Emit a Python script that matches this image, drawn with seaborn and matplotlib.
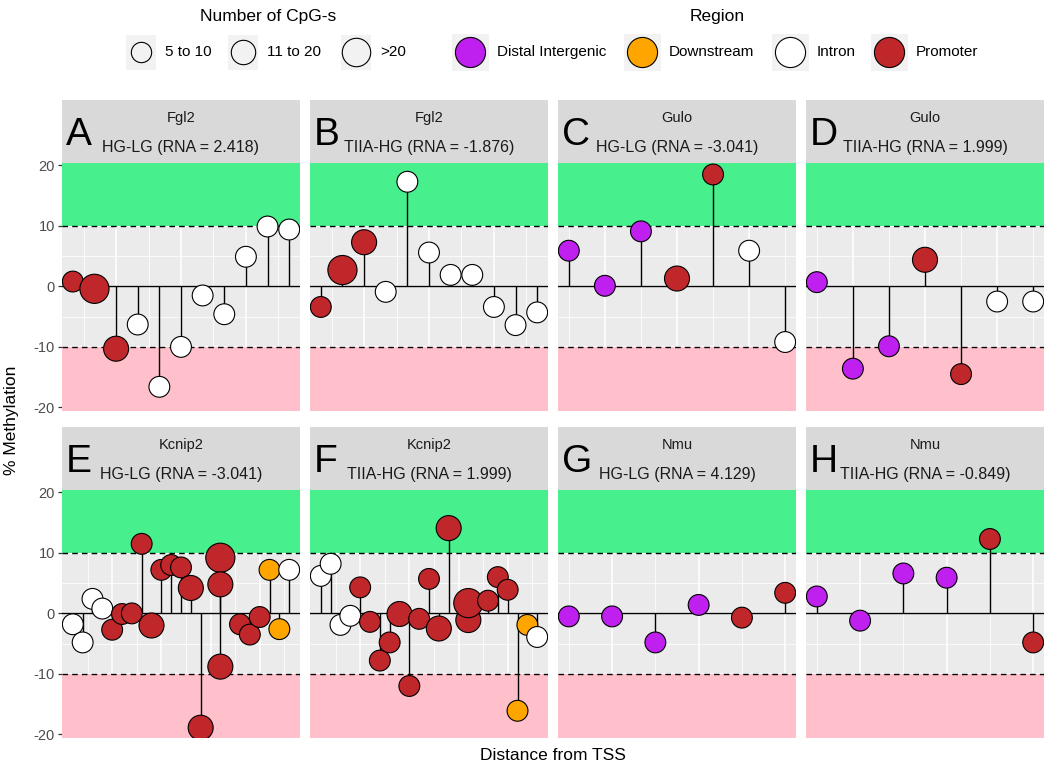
import numpy as np
import pandas as pd
import matplotlib
matplotlib.use("Agg")
import matplotlib.pyplot as plt
from matplotlib.patches import Rectangle
import seaborn as sns

# Panel annotations
letters = ["A", "B", "C", "D", "E", "F", "G", "H"]
genes = ["Fgl2", "Fgl2", "Gulo", "Gulo", "Kcnip2", "Kcnip2", "Nmu", "Nmu"]
contrasts = ["HG-LG", "TIIA-HG", "HG-LG", "TIIA-HG", "HG-LG", "TIIA-HG", "HG-LG", "TIIA-HG"]
rna = ["2.418", "-1.876", "-3.041", "1.999", "-3.041", "1.999", "4.129", "-0.849"]

# CpG sites: rank along the gene, % methylation change, region code, CpG count class
# region: P = Promoter, I = Intron, D = Distal Intergenic, O = Downstream
# cpg: 1 = 5 to 10, 2 = 11 to 20, 3 = >20
a_pos = [1, 2, 3, 4, 5, 6, 7, 8, 9, 10, 11]
a_meth = [0.8, -0.4, -10.3, -6.3, -16.6, -10.0, -1.5, -4.6, 4.9, 9.9, 9.4]
a_region = ["P", "P", "P", "I", "I", "I", "I", "I", "I", "I", "I"]
a_cpg = [1, 3, 2, 1, 1, 1, 1, 1, 1, 1, 1]

b_pos = [1, 2, 3, 4, 5, 6, 7, 8, 9, 10, 11]
b_meth = [-3.4, 2.7, 7.3, -0.9, 17.3, 5.6, 1.9, 1.9, -3.4, -6.4, -4.3]
b_region = ["P", "P", "P", "I", "I", "I", "I", "I", "I", "I", "I"]
b_cpg = [1, 3, 2, 1, 1, 1, 1, 1, 1, 1, 1]

c_pos = [1, 2, 3, 4, 5, 6, 7]
c_meth = [5.9, 0.1, 9.1, 1.3, 18.5, 5.9, -9.2]
c_region = ["D", "D", "D", "P", "P", "I", "I"]
c_cpg = [1, 1, 1, 2, 1, 1, 1]

d_pos = [1, 2, 3, 4, 5, 6, 7]
d_meth = [0.7, -13.6, -9.9, 4.4, -14.5, -2.5, -2.5]
d_region = ["D", "D", "D", "P", "P", "I", "I"]
d_cpg = [1, 1, 1, 2, 1, 1, 1]

e_pos = [1, 2, 3, 4, 5, 6, 7, 8, 9, 10, 11, 12, 13, 14, 16, 16, 16, 18, 19, 20, 21, 22, 23]
e_meth = [-1.8, -4.8, 2.4, 0.8, -2.7, -0.1, 0.0, 11.5, -2.0, 7.2, 8.0, 7.6, 4.2, -18.9,
          9.2, 4.8, -8.8, -1.8, -3.5, -0.6, 7.2, -2.6, 7.2]
e_region = ["I", "I", "I", "I", "P", "P", "P", "P", "P", "P", "P", "P", "P", "P",
            "P", "P", "P", "P", "P", "P", "O", "O", "I"]
e_cpg = [1, 1, 1, 1, 1, 1, 1, 1, 2, 1, 1, 1, 2, 2, 3, 2, 2, 1, 1, 1, 1, 1, 1]

f_pos = [1, 2, 3, 4, 5, 6, 7, 8, 9, 10, 11, 12, 13, 14, 16, 16, 18, 19, 20, 21, 22, 23]
f_meth = [6.2, 8.2, -1.9, -0.4, 4.3, -1.4, -7.8, -4.8, -0.1, -12.0, -0.9, 5.7, -2.5, 14.1,
          -1.1, 1.7, 2.1, 6.0, 3.9, -16.1, -1.9, -3.9]
f_region = ["I", "I", "I", "I", "P", "P", "P", "P", "P", "P", "P", "P", "P", "P",
            "P", "P", "P", "P", "P", "O", "O", "I"]
f_cpg = [1, 1, 1, 1, 1, 1, 1, 1, 2, 1, 1, 1, 2, 2, 2, 3, 1, 1, 1, 1, 1, 1]

g_pos = [1, 2, 3, 4, 5, 6]
g_meth = [-0.5, -0.5, -4.8, 1.4, -0.7, 3.4]
g_region = ["D", "D", "D", "D", "P", "P"]
g_cpg = [1, 1, 1, 1, 1, 1]

h_pos = [1, 2, 3, 4, 5, 6]
h_meth = [2.8, -1.2, 6.6, 5.9, 12.3, -4.8]
h_region = ["D", "D", "D", "D", "P", "P"]
h_cpg = [1, 1, 1, 1, 1, 1]

region_names = {"D": "Distal Intergenic", "O": "Downstream", "I": "Intron", "P": "Promoter"}
cpg_names = {1: "5 to 10", 2: "11 to 20", 3: ">20"}
region_colors = {"Distal Intergenic": "#BF1FEF", "Downstream": "#FFA500",
                 "Intron": "#FFFFFF", "Promoter": "#C0272B"}
cpg_sizes = {"5 to 10": 225, "11 to 20": 324, ">20": 441}

panels = [
    (a_pos, a_meth, a_region, a_cpg), (b_pos, b_meth, b_region, b_cpg),
    (c_pos, c_meth, c_region, c_cpg), (d_pos, d_meth, d_region, d_cpg),
    (e_pos, e_meth, e_region, e_cpg), (f_pos, f_meth, f_region, f_cpg),
    (g_pos, g_meth, g_region, g_cpg), (h_pos, h_meth, h_region, h_cpg),
]
grid_steps = [1.5, 1.5, 1, 1, 2.5, 2.5, 1, 1]

plt.rcParams["font.family"] = ["Liberation Sans", "DejaVu Sans"]
plt.rcParams["axes.unicode_minus"] = False

W, H = 1050, 770
fig = plt.figure(figsize=(10.5, 7.7), dpi=100)
col_left = [62, 310, 558, 806]
row_top = [163, 490]
panel_w, panel_h, strip_h = 238, 248, 63


def frac(x, y, w, h):
    return [x / W, 1 - (y + h) / H, w / W, h / H]


for i, (pos, meth, reg, cpg) in enumerate(panels):
    r, c = divmod(i, 4)
    df = pd.DataFrame({
        "pos": pos,
        "meth": meth,
        "region": [region_names[k] for k in reg],
        "cpg": [cpg_names[k] for k in cpg],
    })

    ax = fig.add_axes(frac(col_left[c], row_top[r], panel_w, panel_h))
    ax.set_facecolor("#EBEBEB")
    ax.axhspan(10, 40, color="#47EF8D", lw=0, zorder=1)
    ax.axhspan(-40, -10, color="#FFC0CB", lw=0, zorder=1)
    for yy in (10, -10):
        ax.axhline(yy, color="black", lw=1.0, ls=(0, (4, 3)), zorder=2)
    ax.axhline(0, color="black", lw=1.0, zorder=2)
    ax.vlines(df["pos"], 0, df["meth"], color="black", lw=1.0, zorder=3)
    sns.scatterplot(data=df, x="pos", y="meth", hue="region", size="cpg",
                    palette=region_colors, sizes=cpg_sizes,
                    hue_order=list(region_colors), size_order=list(cpg_sizes),
                    edgecolor="black", linewidth=0.8, legend=False, ax=ax, zorder=4)
    ax.set_xlabel("")
    ax.set_ylabel("")
    ax.set_ylim(-20.6, 20.4)

    # ggplot-like grid: white major / thinner minor lines
    x0, x1 = ax.get_xlim()
    step = grid_steps[i]
    lines = np.arange(step, x1, step)
    ax.set_xticks([v for k, v in enumerate(lines, 1) if k % 2 == 0])
    ax.set_xticks([v for k, v in enumerate(lines, 1) if k % 2 == 1], minor=True)
    ax.set_xlim(x0, x1)
    ax.set_yticks([-20, -10, 0, 10, 20])
    ax.set_yticks([-15, -5, 5, 15], minor=True)
    ax.set_axisbelow(True)
    ax.grid(which="major", color="white", lw=1.1)
    ax.grid(which="minor", color="white", lw=0.55)
    ax.tick_params(axis="x", which="both", length=0, labelbottom=False)
    ax.tick_params(axis="y", which="minor", length=0)
    if c == 0:
        ax.tick_params(axis="y", which="major", length=3, width=0.9, color="#333333",
                       labelcolor="#4D4D4D", labelsize=10.5, pad=2)
    else:
        ax.tick_params(axis="y", which="major", length=0, labelleft=False)
    for s in ax.spines.values():
        s.set_visible(False)

    # facet strip
    sax = fig.add_axes(frac(col_left[c], row_top[r] - strip_h, panel_w, strip_h))
    sax.set_facecolor("#D9D9D9")
    sax.set_xticks([])
    sax.set_yticks([])
    for s in sax.spines.values():
        s.set_visible(False)
    sax.text(0.5, 0.72, genes[i], ha="center", va="center", fontsize=10.5, color="#1A1A1A")
    sax.text(0.5, 0.24, f"{contrasts[i]} (RNA = {rna[i]})", ha="center", va="center",
             fontsize=11.5, color="#1A1A1A")
    sax.text(0.015, 0.45, letters[i], ha="left", va="center", fontsize=28, color="black")

fig.text(12 / W, 1 - 420 / H, "% Methylation", rotation=90, ha="center", va="center",
         fontsize=12.5, color="black")
fig.text(553 / W, 1 - 755 / H, "Distance from TSS", ha="center", va="center",
         fontsize=12.5, color="black")

# legends drawn in a top strip axes measured in pixels
lax = fig.add_axes([0, 1 - 80 / H, 1, 80 / H])
lax.set_xlim(0, W)
lax.set_ylim(80, 0)
lax.axis("off")
key_bg = "#F2F2F2"
key_y = 52

lax.text(268, 16, "Number of CpG-s", ha="center", va="center", fontsize=12.5)
cpg_key_x = [141, 243, 356]
for kx, (lab, s) in zip(cpg_key_x, cpg_sizes.items()):
    lax.add_patch(Rectangle((kx - 15, key_y - 17.5), 30, 35, color=key_bg, lw=0))
    lax.scatter([kx], [key_y], s=s * 0.95, facecolor=key_bg, edgecolor="black", lw=0.8)
    lax.text(kx + 24, key_y, lab, ha="left", va="center", fontsize=11)

lax.text(717, 16, "Region", ha="center", va="center", fontsize=12.5)
reg_key_x = [470, 642, 790, 889]
for kx, (lab, col) in zip(reg_key_x, region_colors.items()):
    lax.add_patch(Rectangle((kx - 18.5, key_y - 18.5), 37, 37, color=key_bg, lw=0))
    lax.scatter([kx], [key_y], s=470, facecolor=col, edgecolor="black", lw=0.8)
    lax.text(kx + 27, key_y, lab, ha="left", va="center", fontsize=11)

fig.savefig("out.png", dpi=100)
